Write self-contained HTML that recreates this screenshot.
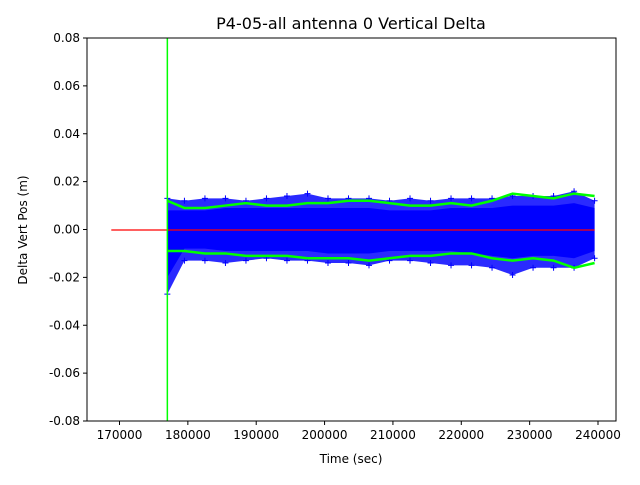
<!DOCTYPE html>
<html><head><meta charset="utf-8"><style>
body{margin:0;background:#fff;font-family:"Liberation Sans","DejaVu Sans",sans-serif;}
svg text{font-family:"DejaVu Sans","Liberation Sans",sans-serif;}
</style></head><body>
<svg id="chart" width="640" height="480" xmlns="http://www.w3.org/2000/svg"></svg>
<script>
const times = [177000,179500,182500,185500,188500,191500,194500,197500,200500,203500,206500,209500,212500,215500,218500,221500,224500,227500,230500,233500,236500,239500];
const blueTop = [0.013,0.012,0.013,0.013,0.012,0.013,0.014,0.015,0.013,0.013,0.013,0.012,0.013,0.012,0.013,0.013,0.013,0.014,0.014,0.014,0.016,0.012];
const blueBottom = [-0.027,-0.013,-0.013,-0.014,-0.013,-0.012,-0.013,-0.013,-0.014,-0.014,-0.015,-0.013,-0.013,-0.014,-0.015,-0.015,-0.016,-0.019,-0.016,-0.016,-0.016,-0.012];
const denseTop = [0.008,0.008,0.008,0.009,0.009,0.009,0.009,0.009,0.009,0.009,0.009,0.008,0.008,0.008,0.009,0.009,0.009,0.010,0.010,0.010,0.011,0.009];
const denseBottom = [-0.020,-0.008,-0.008,-0.009,-0.009,-0.009,-0.009,-0.009,-0.010,-0.010,-0.010,-0.009,-0.009,-0.009,-0.009,-0.010,-0.011,-0.012,-0.011,-0.011,-0.012,-0.009];
const greenTop = [0.012,0.009,0.009,0.010,0.011,0.010,0.010,0.011,0.011,0.012,0.012,0.011,0.010,0.010,0.011,0.010,0.012,0.015,0.014,0.013,0.015,0.014];
const greenBottom = [-0.009,-0.009,-0.010,-0.010,-0.011,-0.011,-0.011,-0.012,-0.012,-0.012,-0.013,-0.012,-0.011,-0.011,-0.010,-0.010,-0.012,-0.013,-0.012,-0.013,-0.016,-0.014];
const xTicks = [170000,180000,190000,200000,210000,220000,230000,240000];
const yTicks = [-0.08,-0.06,-0.04,-0.02,0.00,0.02,0.04,0.06,0.08];
const redStart = 168800, redEnd = 239500, vline = 177000;

const L=87,R=616,T=38,B=421;
const xmin=165246,xmax=242633,ymin=-0.08,ymax=0.08;
const sx=v=>L+(v-xmin)/(xmax-xmin)*(R-L);
const sy=v=>B-(v-ymin)/(ymax-ymin)*(B-T);
const svg=document.getElementById('chart');
const NS='http://www.w3.org/2000/svg';
function mk(tag,attrs,parent){const e=document.createElementNS(NS,tag);for(const k in attrs)e.setAttribute(k,attrs[k]);(parent||svg).appendChild(e);return e;}

let t=mk('text',{x:351,y:29,'text-anchor':'middle','font-size':'16',fill:'#000'});


t.textContent='P4-05-all antenna 0 Vertical Delta';

function band(top,bot,color,name){
  let pts=times.map((x,i)=>sx(x)+','+sy(top[i]));
  pts=pts.concat(times.map((x,i)=>sx(x)+','+sy(bot[i])).reverse());
  const p=mk('polygon',{points:pts.join(' '),fill:color});
  
  
}
band(blueTop,blueBottom,'#2a2aff','blue-outer-band');
band(denseTop,denseBottom,'#0000ff','blue-dense-band');
times.forEach((x,i)=>{
  [blueTop[i],blueBottom[i]].forEach(v=>{
    const m=mk('path',{d:`M${sx(x)-3},${sy(v)}h6M${sx(x)},${sy(v)-3}v6`,stroke:'#0000ff','stroke-width':1});
    
    
  });
});
function line(arr,name){
  const p=mk('polyline',{points:times.map((x,i)=>sx(x)+','+sy(arr[i])).join(' '),fill:'none',stroke:'#00ff00','stroke-width':2.5});
  
  
}
line(greenTop,'upper-envelope');
line(greenBottom,'lower-envelope');
let rl=mk('line',{x1:sx(redStart),x2:sx(redEnd),y1:230,y2:230,stroke:'#ff0000','stroke-width':1.2});


let vl=mk('line',{x1:sx(vline),x2:sx(vline),y1:T,y2:B,stroke:'#00ff00','stroke-width':1.5});



let fr=mk('rect',{x:L,y:T,width:R-L,height:B-T,fill:'none',stroke:'#000','stroke-width':1});


xTicks.forEach(v=>{
  const x=sx(v);
  const k=mk('line',{x1:x,x2:x,y1:B,y2:B+4,stroke:'#000'});
  
  
  const tx=mk('text',{x:x,y:B+18,'text-anchor':'middle','font-size':'12'});
  
  
  tx.textContent=v;
});
yTicks.forEach(v=>{
  const y=sy(v);
  const k=mk('line',{x1:L-4,x2:L,y1:y,y2:y,stroke:'#000'});
  
  
  const tx=mk('text',{x:L-7,y:y+4,'text-anchor':'end','font-size':'12'});
  
  
  tx.textContent=v.toFixed(2);
});
let xl=mk('text',{x:351,y:463,'text-anchor':'middle','font-size':'12'});


xl.textContent='Time (sec)';
let yl=mk('text',{x:27,y:230,'text-anchor':'middle','font-size':'12',transform:'rotate(-90 27 230)'});


yl.textContent='Delta Vert Pos (m)';
</script>
</body></html>
